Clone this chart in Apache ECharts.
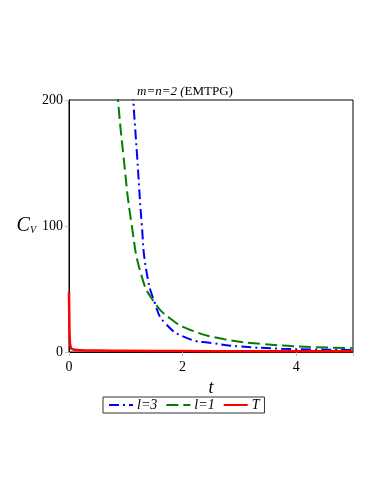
<!DOCTYPE html>
<html>
<head>
<meta charset="utf-8">
<script src="https://cdn.jsdelivr.net/npm/echarts@6/dist/echarts.min.js"></script>
<style>
html,body{margin:0;padding:0;background:#fff;}
#main{width:382px;height:494px;}
</style>
</head>
<body>
<div id="main"></div>
<script>
// l=3 曲线 (蓝, 点划线)
var tL3 = [1.08, 1.13, 1.20, 1.28, 1.36, 1.51, 1.69, 2.08, 2.54, 3.0, 3.74, 4.3, 5.0];
var vL3 = [240, 201, 155, 102, 65, 39, 23, 11, 7, 4.5, 2.6, 2.0, 1.6];
// l=1 曲线 (绿, 虚线)
var tL1 = [0.80, 0.86, 0.96, 1.10, 1.28, 1.51, 1.80, 2.14, 2.72, 3.43, 4.32, 5.0];
var vL1 = [235, 201, 155, 102, 60, 39, 26, 17.5, 10.3, 6.3, 3.9, 3.0];
// T 曲线 (红, 实线)
var tT = [0, 0.003, 0.006, 0.01, 0.015, 0.02, 0.03, 0.04, 0.06, 0.1, 0.2, 0.5, 1, 2, 3, 4, 5];
var vT = [48, 35, 24, 14, 9, 6, 4, 3, 2.3, 1.8, 1.4, 1.1, 0.9, 0.7, 0.6, 0.5, 0.5];
var xTicks = [0, 2, 4];
var yTicks = [0, 100, 200];

function pairs(ts, vs) {
	var out = [];
	for (var i = 0; i < ts.length; i++) {
		out.push([ts[i], vs[i]]);
	}
	return out;
}

var serifFont = '"Liberation Serif", "DejaVu Serif", serif';

var chart = echarts.init(document.getElementById('main'));
var option = {
	animation: false,
	backgroundColor: '#fff',
	title: {
		text: '{i|m=n=2 (}{n|EMTPG)}',
		left: 132,
		top: 80,
		textStyle: {
			fontWeight: 'normal',
			rich: {
				i: {fontFamily: serifFont, fontStyle: 'italic', fontWeight: 'normal', fontSize: 13, color: '#000'},
				n: {fontFamily: serifFont, fontWeight: 'normal', fontSize: 13, color: '#000'}
			}
		}
	},
	grid: {
		left: 69,
		right: 29,
		top: 100,
		bottom: 142,
		show: true,
		borderColor: '#000',
		borderWidth: 1,
		backgroundColor: 'transparent'
	},
	legend: {
		top: 397,
		left: 103,
		itemWidth: 24,
		itemHeight: 10,
		itemGap: 8,
		padding: [1, 5, 1, 5],
		borderColor: '#333',
		borderWidth: 1,
		itemStyle: {opacity: 0},
		textStyle: {fontFamily: serifFont, fontStyle: 'italic', fontSize: 14, color: '#000', padding: [0, 0, 0, -1]},
		data: ['l=3', 'l=1', 'T']
	},
	xAxis: {
		type: 'value',
		min: 0,
		max: 5,
		interval: 2,
		name: 't',
		nameLocation: 'middle',
		nameGap: 24,
		nameTextStyle: {fontFamily: serifFont, fontStyle: 'italic', fontSize: 18, color: '#000'},
		axisLine: {show: true, lineStyle: {color: '#000'}},
		axisTick: {show: true, length: 4, lineStyle: {color: '#bbb'}},
		axisLabel: {
			fontFamily: serifFont, fontSize: 14, color: '#000', margin: 8,
			formatter: function (v) { return xTicks.indexOf(v) >= 0 ? String(v) : ''; }
		},
		splitLine: {show: false}
	},
	yAxis: {
		type: 'value',
		min: 0,
		max: 200,
		interval: 100,
		name: '{c|C}{s|V}',
		nameLocation: 'middle',
		nameRotate: 0,
		nameGap: 33,
		nameTextStyle: {
			rich: {
				c: {fontFamily: serifFont, fontStyle: 'italic', fontSize: 20, color: '#000'},
				s: {fontFamily: serifFont, fontStyle: 'italic', fontSize: 10, color: '#000', padding: [8, 0, 0, 0]}
			}
		},
		axisLine: {show: true, lineStyle: {color: '#000'}},
		axisTick: {show: true, length: 4, lineStyle: {color: '#bbb'}},
		axisLabel: {
			fontFamily: serifFont, fontSize: 14, color: '#000', margin: 6,
			formatter: function (v) { return yTicks.indexOf(v) >= 0 ? String(v) : ''; }
		},
		splitLine: {show: false}
	},
	series: [
		{
			name: 'l=3',
			type: 'line',
			smooth: true,
			showSymbol: false,
			symbol: 'none',
			clip: true,
			color: '#0000ff',
			lineStyle: {color: '#0000ff', width: 2, type: [10, 4, 2, 4]},
			data: pairs(tL3, vL3)
		},
		{
			name: 'l=1',
			type: 'line',
			smooth: true,
			showSymbol: false,
			symbol: 'none',
			clip: true,
			color: '#008000',
			lineStyle: {color: '#008000', width: 2, type: [12, 5]},
			data: pairs(tL1, vL1)
		},
		{
			name: 'T',
			type: 'line',
			smooth: true,
			showSymbol: false,
			symbol: 'none',
			clip: true,
			color: '#ff0000',
			lineStyle: {color: '#ff0000', width: 2.5},
			data: pairs(tT, vT)
		}
	]
};
chart.setOption(option);
</script>
</body>
</html>
